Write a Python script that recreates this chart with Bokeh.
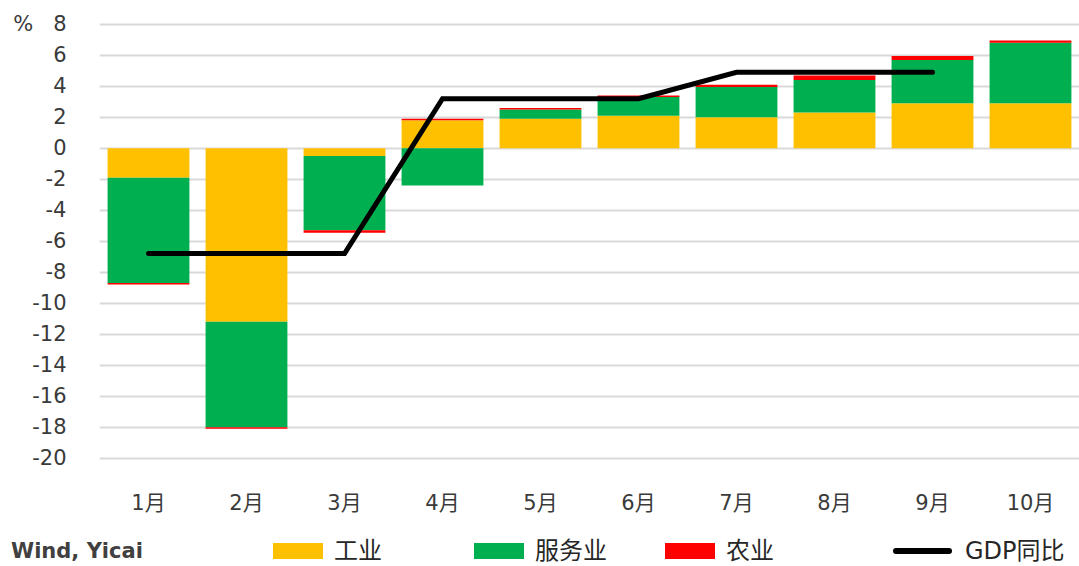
from bokeh.plotting import figure
from bokeh.models import (ColumnDataSource, SingleIntervalTicker, Range1d, FactorRange, Div)
from bokeh.layouts import column
from bokeh.embed import file_html
from bokeh.resources import INLINE

months = ["1月", "2月", "3月", "4月", "5月", "6月", "7月", "8月", "9月", "10月"]
industry = [-1.9, -11.2, -0.5, 1.8, 1.9, 2.1, 2.0, 2.3, 2.9, 2.9]
services = [-6.8, -6.8, -4.8, -2.4, 0.6, 1.2, 1.95, 2.1, 2.8, 3.9]
agriculture = [-0.1, -0.1, -0.15, 0.1, 0.1, 0.1, 0.15, 0.3, 0.25, 0.15]
gdp_months = months[:9]
gdp = [-6.8, -6.8, -6.8, 3.2, 3.2, 3.2, 4.9, 4.9, 4.9]
y_ticks = list(range(-20, 10, 2))
source_text = "Wind, Yicai"
unit_text = "%"
gdp_label = "GDP同比"

series = [("工业", industry, "#FFC000"), ("服务业", services, "#00B050"), ("农业", agriculture, "#FF0000")]

FONT = "DejaVu Sans, Noto Sans CJK SC"
TXT = "#3a3a3a"

p = figure(x_range=FactorRange(*months), y_range=Range1d(-20.15, 8.5),
           width=1079, height=520, output_backend="svg", toolbar_location=None,
           min_border_left=99, min_border_right=0, min_border_top=16, min_border_bottom=60)
p.outline_line_color = None
p.xgrid.grid_line_color = None
p.ygrid.grid_line_color = "#d9d9d9"
p.ygrid.grid_line_width = 2
p.background_fill_color = "white"
p.border_fill_color = "white"

# stacked bars with separate positive/negative stacking (as in Excel)
pos = [0.0] * len(months)
neg = [0.0] * len(months)
for name, vals, color in series:
    bottoms, tops = [], []
    for i, v in enumerate(vals):
        if v >= 0:
            bottoms.append(pos[i]); tops.append(pos[i] + v); pos[i] += v
        else:
            tops.append(neg[i]); bottoms.append(neg[i] + v); neg[i] += v
    src = ColumnDataSource(dict(x=months, bottom=bottoms, top=tops))
    p.vbar(x="x", bottom="bottom", top="top", width=0.835, source=src,
           fill_color=color, line_color=None)

line_src = ColumnDataSource(dict(x=gdp_months, y=gdp))
p.line(x="x", y="y", source=line_src, line_color="black", line_width=5,
       line_join="miter", line_cap="round")

p.yaxis.ticker = SingleIntervalTicker(interval=2)
overrides = {t: str(t) for t in y_ticks}
overrides[8] = unit_text + "\u00a0\u00a0\u00a0" + "8"
p.yaxis.major_label_overrides = overrides
for ax in (p.xaxis, p.yaxis):
    ax.axis_line_color = None
    ax.major_tick_line_color = None
    ax.minor_tick_line_color = None
    ax.major_label_text_font = FONT
    ax.major_label_text_font_size = "21px"
    ax.major_label_text_color = TXT
p.xaxis.major_label_standoff = 24
p.yaxis.major_label_standoff = 27

# legend row (HTML) below the chart
swatch_left = [273, 474, 665]
text_style = ("position:absolute;top:31px;transform:translateY(-50%);white-space:nowrap;"
              "font-family:'DejaVu Sans','Noto Sans CJK SC';font-size:24px;color:#262626;")
parts = [f"<div style=\"position:absolute;left:11px;top:31px;transform:translateY(-50%);"
         f"white-space:nowrap;font-family:'DejaVu Sans';font-weight:bold;font-size:21px;"
         f"color:#404040;\">{source_text}</div>"]
for (name, vals, color), left in zip(series, swatch_left):
    parts.append(f"<div style=\"position:absolute;left:{left}px;top:23px;width:50px;height:16px;"
                 f"background:{color};\"></div>")
    parts.append(f"<div style=\"{text_style}left:{left + 61}px;\">{name}</div>")
parts.append("<div style=\"position:absolute;left:893px;top:28px;width:59px;height:6px;"
             "border-radius:3px;background:black;\"></div>")
parts.append(f"<div style=\"{text_style}left:965px;\">{gdp_label}</div>")

legend_div = Div(text="<div style=\"position:relative;width:1079px;height:46px;\">" + "".join(parts) + "</div>",
                 width=1079, height=46, margin=0)

layout = column(p, legend_div, spacing=0)
open("out.html", "w").write(file_html(layout, INLINE))
